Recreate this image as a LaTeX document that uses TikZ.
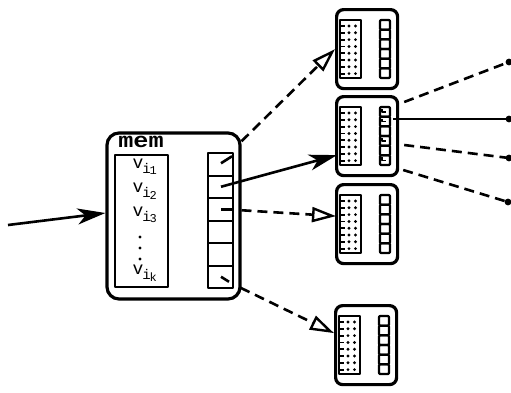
\documentclass[tikz,border=0pt]{standalone}
\usepackage{fontspec}
\newfontfamily\monof{Liberation Mono}
\usetikzlibrary{arrows.meta,calc}
\begin{document}
\begin{tikzpicture}[x=1pt,y=-1pt,line join=round,
  bigbox/.style={draw,line width=3.2pt,rounded corners=12pt,inner sep=0,minimum width=133pt,minimum height=166pt},
  sbox/.style={draw,line width=3.2pt,rounded corners=7pt,inner sep=0,minimum width=61pt,minimum height=79pt},
  col/.style={draw,line width=2.4pt,inner sep=0},
  cell/.style={draw,line width=2pt,inner sep=0,minimum width=25pt,minimum height=22.5pt},
  link/.style={line width=2.6pt},
  dlink/.style={line width=2.6pt,dash pattern=on 10pt off 6pt},
  fillarrow/.style={-{Stealth[length=28pt,width=16pt,inset=8pt]}},
  openarrow/.style={-{Triangle[open,length=24pt,width=15pt,line width=2.4pt,fill=white]}},
  vlabel/.style={font=\monof\fontsize{18}{18}\selectfont,inner sep=0},
  sub/.style={font=\monof\fontsize{14}{14}\selectfont,inner sep=0},
  smallbox/.pic={
    \node[sbox,anchor=north west] (-box) at (0,0) {};
    \draw[col] (5,12) rectangle (26,70);
    \foreach \k in {0,...,7}{
      \draw[line width=1.8pt] (5,{18+6.8*\k}) -- (10,{18+6.8*\k});
      \fill (14,{18+6.8*\k}) circle (1.6);
      \fill (20.5,{18+6.8*\k}) circle (1.6);
    }
    \foreach \k in {0,...,5}{
      \draw[line width=2.2pt,rounded corners=1pt] (45,{12+58/6*\k}) rectangle (55,{12+58/6*(\k+1)});
    }
  }
]
\useasboundingbox (0,0) rectangle (511,392);

% main box
\node[bigbox] (mem) at (173.5,216) {};
\node[font=\monof\bfseries\fontsize{21}{21}\selectfont,inner sep=0,xscale=1.2] (memlabel) at (141,142) {mem};
\node[col,minimum width=53pt,minimum height=132pt] (list) at (141.5,221) {};
\node[vlabel] (v1) at (138,164) {v};
\node[vlabel] (v2) at (138,188) {v};
\node[vlabel] (v3) at (138,212) {v};
\node[vlabel] (vk) at (138,270) {v};
\foreach \v/\s in {v1/1,v2/2,v3/3,vk/k}{
  \node[sub,anchor=west] (\v i) at ([xshift=-1.5pt,yshift=-4pt]\v.east) {i};
  \node[sub,anchor=west,font=\monof\fontsize{12}{12}\selectfont] (\v s) at ([xshift=-1.5pt,yshift=-3pt]\v i.east) {\s};
}
\fill (140,237) circle (1.6) (140,248) circle (1.6) (140,259) circle (1.6);

\foreach \i in {1,...,6}{
  \node[cell] (c\i) at (220.5,{153+22.5*(\i-0.5)}) {};
}

% small boxes
\pic (b1) at (335,8) {smallbox};
\pic (b2) at (335,95) {smallbox};
\pic (b3) at (335,183) {smallbox};
\pic (b4) at (334,304) {smallbox};

% marks in b2 pointer cells
\foreach \k in {0,1,3,5}{
  \draw[line width=1.5pt] ($(b2-box.north west)+(47,{12+58/6*\k+2})$) -- ++(0,3) -- ++(4,0);
}

% input
\coordinate (in) at (8,225);
\draw[link,fillarrow] (in) -- ([yshift=3pt]mem.west);

% cell 1
\draw[link] ($(c1)+(0.5,-1)$) -- ($(c1)+(11.5,-8)$);
\draw[dlink,openarrow] ($(c1)+(21,-23)$) -- (b1-box.west);
% cell 2
\draw[link,fillarrow] ($(c2)+(0.5,0)$) -- ([yshift=-19pt,xshift=2pt]b2-box.west);
% cell 3
\draw[link] ($(c3)+(0.5,0.5)$) -- ($(c3)+(11.5,0.5)$);
\draw[dlink,openarrow] ($(c3)+(21,1)$) -- ([yshift=8pt,xshift=1pt]b3-box.west);
% cell 6
\draw[link] ($(c6)+(0.5,0)$) -- ($(c6)+(8.5,5)$);
\draw[dlink,openarrow] ($(c6)+(20,11)$) -- ([yshift=12pt]b4-box.west);

% outgoing from b2
\coordinate (e1) at (509,62);
\coordinate (e2) at (509,119);
\coordinate (e3) at (509,158);
\coordinate (e4) at (508,202);
\draw[dlink] ($(b2-box.north east)+(5,7)$) -- (e1);
\draw[link] ($(b2-box.north east)+(-6,24)$) -- (e2);
\draw[dlink] ($(b2-box.north east)+(5,50)$) -- (e3);
\draw[dlink] ($(b2-box.north east)+(4,75)$) -- (e4);
\foreach \e in {e1,e2,e3,e4}{ \fill (\e) circle (3.4); }
\end{tikzpicture}
\end{document}
